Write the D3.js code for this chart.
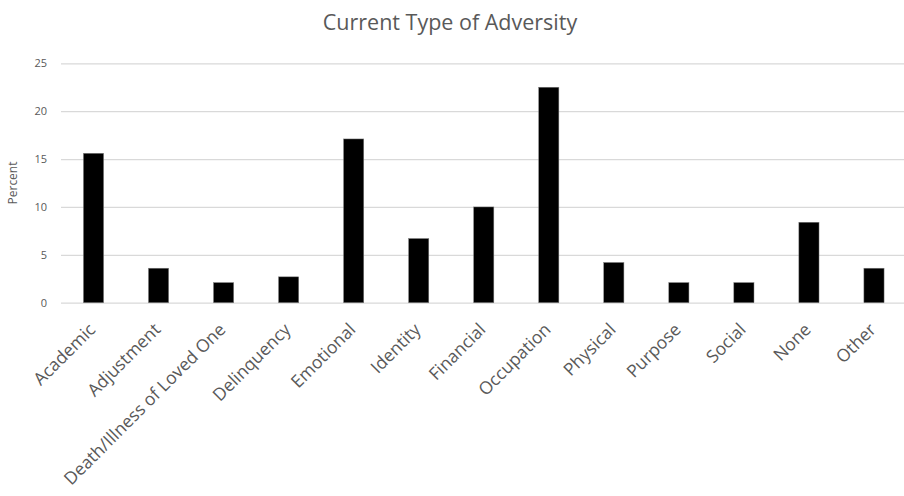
<!DOCTYPE html>
<html>
<head>
<meta charset="utf-8">
<script src="https://cdn.jsdelivr.net/npm/d3@7"></script>
<style>
  html, body { margin: 0; padding: 0; background: #fff; }
  svg { display: block; }
  text { font-family: "Open Sans", "DejaVu Sans", sans-serif; fill: #595959; }
</style>
</head>
<body>
<svg id="chart" width="904" height="496"></svg>
<script>
// Adversity categories and the share of respondents (percent) in each
const categories = [
  "Academic", "Adjustment", "Death/Illness of Loved One", "Delinquency",
  "Emotional", "Identity", "Financial", "Occupation", "Physical",
  "Purpose", "Social", "None", "Other"
];
const percents = [15.6, 3.6, 2.1, 2.7, 17.1, 6.7, 10.0, 22.5, 4.2, 2.1, 2.1, 8.4, 3.6];
const yTicks = [0, 5, 10, 15, 20, 25];
const chartTitle = "Current Type of Adversity";
const yLabel = "Percent";

const data = categories.map((c, i) => ({ category: c, value: percents[i] }));

const svg = d3.select("#chart");

const plot = { left: 61, right: 906.5, top: 63.3, bottom: 302.7 };

const x = d3.scaleBand()
  .domain(categories)
  .range([plot.left, plot.right])
  .paddingInner(0.69)
  .paddingOuter(0.345);

const y = d3.scaleLinear()
  .domain([0, 25])
  .range([plot.bottom, plot.top]);

// horizontal gridlines with value labels
const yAxis = d3.axisLeft(y)
  .tickValues(yTicks)
  .tickSize(-(plot.right - plot.left))
  .tickPadding(14)
  .tickFormat(d3.format("d"));

const gy = svg.append("g")
  .attr("transform", `translate(${plot.left},0)`)
  .call(yAxis);
gy.select(".domain").remove();
gy.selectAll(".tick line")
  .attr("stroke", "#d9d9d9")
  .attr("stroke-width", 1.3);
gy.selectAll(".tick text")
  .attr("font-size", 11)
  .style("fill", "#595959");

// bars
svg.append("g")
  .selectAll("rect")
  .data(data)
  .join("rect")
  .attr("x", d => x(d.category))
  .attr("y", d => y(d.value))
  .attr("width", x.bandwidth())
  .attr("height", d => y(0) - y(d.value))
  .attr("fill", "#000")
  .attr("stroke", "#7f7f7f")
  .attr("stroke-width", 0.5);

// rotated category labels
const xAxis = d3.axisBottom(x).tickSize(0).tickPadding(0);
const gx = svg.append("g")
  .attr("transform", `translate(0,${plot.bottom})`)
  .call(xAxis);
gx.select(".domain").remove();
gx.selectAll(".tick text")
  .attr("font-size", 17.5)
  .attr("text-anchor", "end")
  .attr("dy", 0)
  .attr("transform", "translate(3,28) rotate(-45)")
  .style("fill", "#595959");

// title
svg.append("text")
  .attr("x", 450)
  .attr("y", 30)
  .attr("text-anchor", "middle")
  .attr("font-size", 21.5)
  .text(chartTitle);

// y axis title
svg.append("text")
  .attr("transform", `translate(17,${(plot.top + plot.bottom) / 2}) rotate(-90)`)
  .attr("text-anchor", "middle")
  .attr("font-size", 12)
  .text(yLabel);
</script>
</body>
</html>
